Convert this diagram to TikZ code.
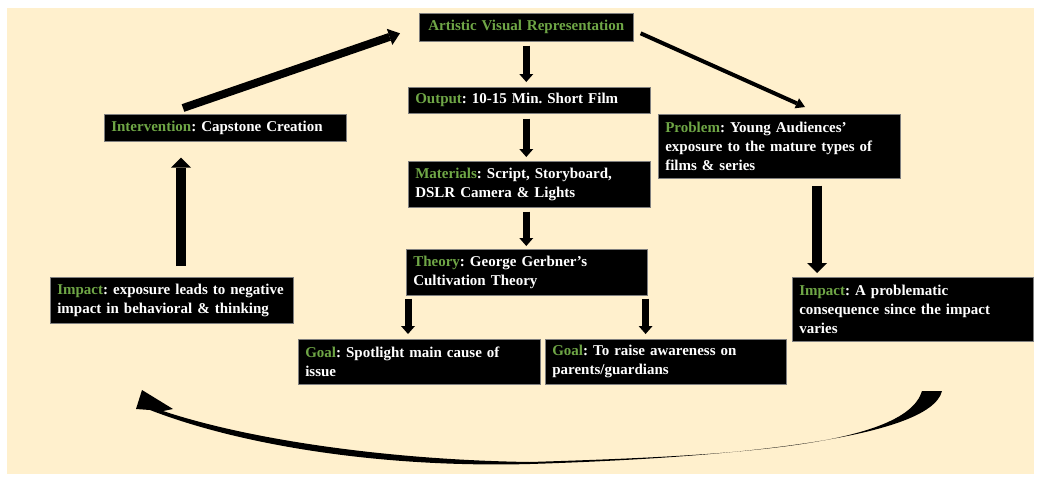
\documentclass[tikz,border=0pt]{standalone}
\usepackage{fontspec}
\setmainfont{Liberation Serif}
\usepackage{tikz}
\usetikzlibrary{arrows.meta, positioning, calc}
\definecolor{creambg}{HTML}{FFF0CD}
\definecolor{keygreen}{HTML}{6FA646}
\definecolor{boxedge}{HTML}{7F7F7F}
\newcommand{\key}[1]{\textcolor{keygreen}{#1}}
\frenchspacing
\tikzset{
  card/.style={fill=black, draw=boxedge, line width=0.6pt, text=white, anchor=north west,
               font=\fontsize{15}{19}\selectfont\bfseries, align=left,
               inner xsep=7pt, inner ysep=0pt, text width=#1},
  card/.default=228pt,
  flow/.style={-{Triangle[width=14pt, length=8pt, line width=0pt]}, line width=7pt},
  bigflow/.style={-{Triangle[width=20pt, length=10pt, line width=0pt]}, line width=10pt},
}

\begin{document}
\begin{tikzpicture}[x=1pt, y=-1pt,
  diagflow/.style={-{Triangle[width=17pt, length=11pt, line width=0pt]}, line width=8pt},
  thinflow/.style={-{Triangle[width=11pt, length=9pt, line width=0pt]}, line width=4pt}]
  \useasboundingbox (0,0) rectangle (1038,479);
  \fill[creambg] (7,8) rectangle (1034,474);
  \node[card=200pt, align=center, minimum height=28pt] (avr) at (419,13) {\key{Artistic Visual Representation}};
  \node[card, minimum height=26pt] (output) at (408,87) {\key{Output}: 10-15 Min. Short Film};
  \node[card, minimum height=46pt] (materials) at (408,161) {\key{Materials}: Script, Storyboard,\\DSLR Camera \& Lights};
  \node[card=227pt, minimum height=46pt] (theory) at (406,249) {\key{Theory}: George Gerbner's\\Cultivation Theory};
  \node[card, minimum height=45pt] (goalA) at (298,339) {\key{Goal}: Spotlight main cause of\\issue};
  \node[card=227pt, minimum height=45pt] (goalB) at (545,339) {\key{Goal}: To raise awareness on\\parents/guardians};
  \node[card, minimum height=27pt] (intervention) at (104,114) {\key{Intervention}: Capstone Creation};
  \node[card=229pt, minimum height=46pt] (impactL) at (50,277) {\key{Impact}: exposure leads to negative\\impact in behavioral \& thinking};
  \node[card, minimum height=64pt] (problem) at (658,114) {\key{Problem}: Young Audiences'\\exposure to the mature types of\\films \& series};
  \node[card=227pt, minimum height=64pt] (impactR) at (792,277) {\key{Impact}: A problematic\\consequence since the impact\\varies};
  \coordinate (thL) at ([xshift=2pt]theory.south west);
  \coordinate (thR) at ([xshift=-2pt]theory.south east);
  \coordinate (prD) at ([xshift=25pt]impactR.north west);
  \coordinate (inU) at ([xshift=77pt]intervention.south west);
  \coordinate (inD) at ([xshift=79pt, yshift=6pt]intervention.north west);
  \coordinate (avW) at ([xshift=-19pt, yshift=-6pt]avr.west);
  \coordinate (avE) at ([xshift=7pt, yshift=-6pt]avr.east);
  \coordinate (prN) at ([xshift=147pt, yshift=7pt]problem.north west);
  \draw[flow, shorten <=4pt, shorten >=5pt] (avr.south) -- (avr.south |- output.north);
  \draw[flow, shorten <=5pt, shorten >=4pt] (avr.south |- output.south) -- (avr.south |- materials.north);
  \draw[flow, shorten <=4pt, shorten >=3pt] (avr.south |- materials.south) -- (avr.south |- theory.north);
  \draw[flow, shorten <=3pt, shorten >=5pt] (thL) -- (thL |- goalA.north);
  \draw[flow, shorten <=3pt, shorten >=5pt] (thR) -- (thR |- goalB.north);
  \draw[bigflow, shorten <=7pt, shorten >=4pt] (prD |- problem.south) -- (prD);
  \draw[bigflow, shorten <=11pt, shorten >=16pt] (inU |- impactL.north) -- (inU);
  \draw[diagflow] (inD) -- (avW);
  \draw[thinflow] (avE) -- (prN);
  \fill (922,391) -- (942,391) .. controls (930,440) and (720,458) .. (530,464)
    .. controls (380,468) and (240,445) .. (150,410) -- (136,409) -- (142,390) -- (173,409) -- (163,411)
    .. controls (250,440) and (390,460) .. (530,462) .. controls (720,456) and (905,448) .. (922,391) -- cycle;
\end{tikzpicture}
\end{document}
